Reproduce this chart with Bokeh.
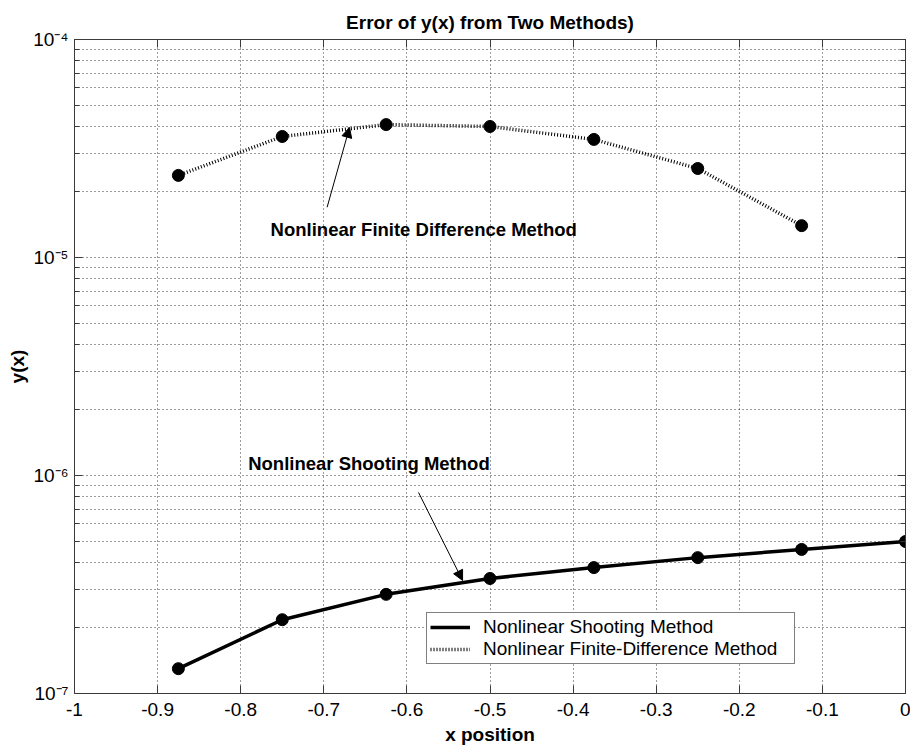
from bokeh.plotting import figure
from bokeh.models import (Range1d, LinearAxis, LogAxis, FixedTicker, CustomJSTickFormatter,
                          Legend, LegendItem, Arrow, NormalHead, Label, ColumnDataSource)
from bokeh.embed import file_html
from bokeh.resources import INLINE

# ---------------- data ----------------
x_pos = [-0.875, -0.75, -0.625, -0.5, -0.375, -0.25, -0.125, 0.0]
shooting_err = [1.30e-7, 2.18e-7, 2.85e-7, 3.37e-7, 3.78e-7, 4.20e-7, 4.58e-7, 4.98e-7]
fd_x = [-0.875, -0.75, -0.625, -0.5, -0.375, -0.25, -0.125]
fd_err = [2.38e-5, 3.59e-5, 4.07e-5, 3.99e-5, 3.48e-5, 2.56e-5, 1.40e-5]

x_ticks = [-1.0, -0.9, -0.8, -0.7, -0.6, -0.5, -0.4, -0.3, -0.2, -0.1, 0.0]
y_ticks = [1e-7, 1e-6, 1e-5, 1e-4]
y_minor = [m * d for d in (1e-7, 1e-6, 1e-5) for m in range(2, 10)]

title_text = "Error of y(x) from Two Methods)"
x_label = "x position"
y_label = "y(x)"
series_names = ["Nonlinear Shooting Method", "Nonlinear Finite-Difference Method"]
note_fd = "Nonlinear Finite Difference Method"
note_sh = "Nonlinear Shooting Method"

FONT = "Liberation Sans"
GRID = "#3a3a3a"
AX = "#3a3a3a"

p = figure(width=910, height=749, output_backend="svg", toolbar_location=None,
           x_range=Range1d(-1, 0), y_range=Range1d(1e-7, 1e-4), y_axis_type="log",
           min_border_left=74, min_border_right=5, min_border_top=39, min_border_bottom=56,
           background_fill_color="white", border_fill_color="white")

p.title.text = title_text
p.title.align = "center"
p.title.text_font = FONT
p.title.text_font_size = "19px"
p.title.text_font_style = "bold"
p.title.text_color = "black"
p.title.standoff = 13

p.outline_line_color = AX

xt = FixedTicker(ticks=x_ticks)
yt = FixedTicker(ticks=y_ticks, minor_ticks=y_minor)

xfmt = CustomJSTickFormatter(code="return String(Math.round(tick*10)/10);")
yfmt = CustomJSTickFormatter(code="""
const e = Math.round(Math.log10(tick));
const sup = {'-':'\u207b','0':'\u2070','1':'\u00b9','2':'\u00b2','3':'\u00b3','4':'\u2074',
             '5':'\u2075','6':'\u2076','7':'\u2077','8':'\u2078','9':'\u2079'};
return '10' + String(e).split('').map(c => sup[c]).join('');
""")
blank_fmt = CustomJSTickFormatter(code="return '';")

def style_axis(ax, labels=True):
    ax.axis_line_color = AX
    ax.major_tick_line_color = AX
    ax.minor_tick_line_color = AX
    ax.major_tick_in = 8
    ax.major_tick_out = 0
    ax.minor_tick_in = 5
    ax.minor_tick_out = 0
    if labels:
        ax.major_label_text_font = FONT
        ax.major_label_text_font_size = "19px"
        ax.major_label_text_color = "black"
        ax.axis_label_text_font = FONT
        ax.axis_label_text_font_size = "19px"
        ax.axis_label_text_font_style = "bold"
        ax.axis_label_text_color = "black"
    else:
        ax.major_label_text_font_size = "1px"
        ax.major_label_standoff = 0

xa = p.xaxis[0]
xa.ticker = xt
xa.formatter = xfmt
xa.axis_label = x_label
style_axis(xa)
xa.major_label_standoff = 9
xa.axis_label_standoff = 5
xa.minor_tick_in = 0

ya = p.yaxis[0]
ya.ticker = yt
ya.formatter = yfmt
ya.axis_label = y_label
style_axis(ya)
ya.major_label_standoff = 6
ya.axis_label_standoff = 2

top_ax = LinearAxis(ticker=xt, formatter=blank_fmt)
style_axis(top_ax, labels=False)
top_ax.minor_tick_in = 0
p.add_layout(top_ax, "above")

right_ax = LogAxis(ticker=yt, formatter=blank_fmt)
style_axis(right_ax, labels=False)
p.add_layout(right_ax, "right")

p.xgrid.ticker = xt
p.ygrid.ticker = yt
for g in (p.xgrid[0], p.ygrid[0]):
    g.grid_line_color = GRID
    g.grid_line_dash = "1 3"
    g.grid_line_width = 1
p.ygrid[0].minor_grid_line_color = GRID
p.ygrid[0].minor_grid_line_dash = "1 3"
p.ygrid[0].minor_grid_line_width = 1

src_sh = ColumnDataSource(dict(x=x_pos, y=shooting_err))
src_fd = ColumnDataSource(dict(x=fd_x, y=fd_err))

r_sh = p.line("x", "y", source=src_sh, line_color="black", line_width=3.5)
p.scatter("x", "y", source=src_sh, size=12, color="black")
r_fd = p.line("x", "y", source=src_fd, line_color="black", line_width=3.5, line_dash="1 2")
p.scatter("x", "y", source=src_fd, size=12, color="black")

legend = Legend(items=[LegendItem(label=series_names[0], renderers=[r_sh]),
                       LegendItem(label=series_names[1], renderers=[r_fd])],
                location=(352, 29), orientation="vertical",
                label_text_font=FONT, label_text_font_size="19px", label_text_color="black",
                glyph_width=40, glyph_height=18, label_height=18, label_width=308,
                label_standoff=13, padding=3, spacing=0, margin=0,
                border_line_color="black", border_line_width=1,
                background_fill_color="white", background_fill_alpha=1)
p.add_layout(legend, "center")

# annotations
p.add_layout(Arrow(end=NormalHead(size=10, fill_color="black", line_color="black"),
                   x_start=-0.696, y_start=1.70e-5, x_end=-0.669, y_end=3.95e-5,
                   line_color="black", line_width=1))
p.add_layout(Arrow(end=NormalHead(size=10, fill_color="black", line_color="black"),
                   x_start=-0.586, y_start=8.36e-7, x_end=-0.533, y_end=3.30e-7,
                   line_color="black", line_width=1))
p.add_layout(Label(x=-0.764, y=1.34e-5, text=note_fd, text_font=FONT, text_font_size="18.5px",
                   text_font_style="bold", text_color="black",
                   text_baseline="middle", text_align="left"))
p.add_layout(Label(x=-0.791, y=1.135e-6, text=note_sh, text_font=FONT, text_font_size="18.5px",
                   text_font_style="bold", text_color="black",
                   text_baseline="middle", text_align="left"))

open("out.html", "w").write(file_html(p, INLINE))
